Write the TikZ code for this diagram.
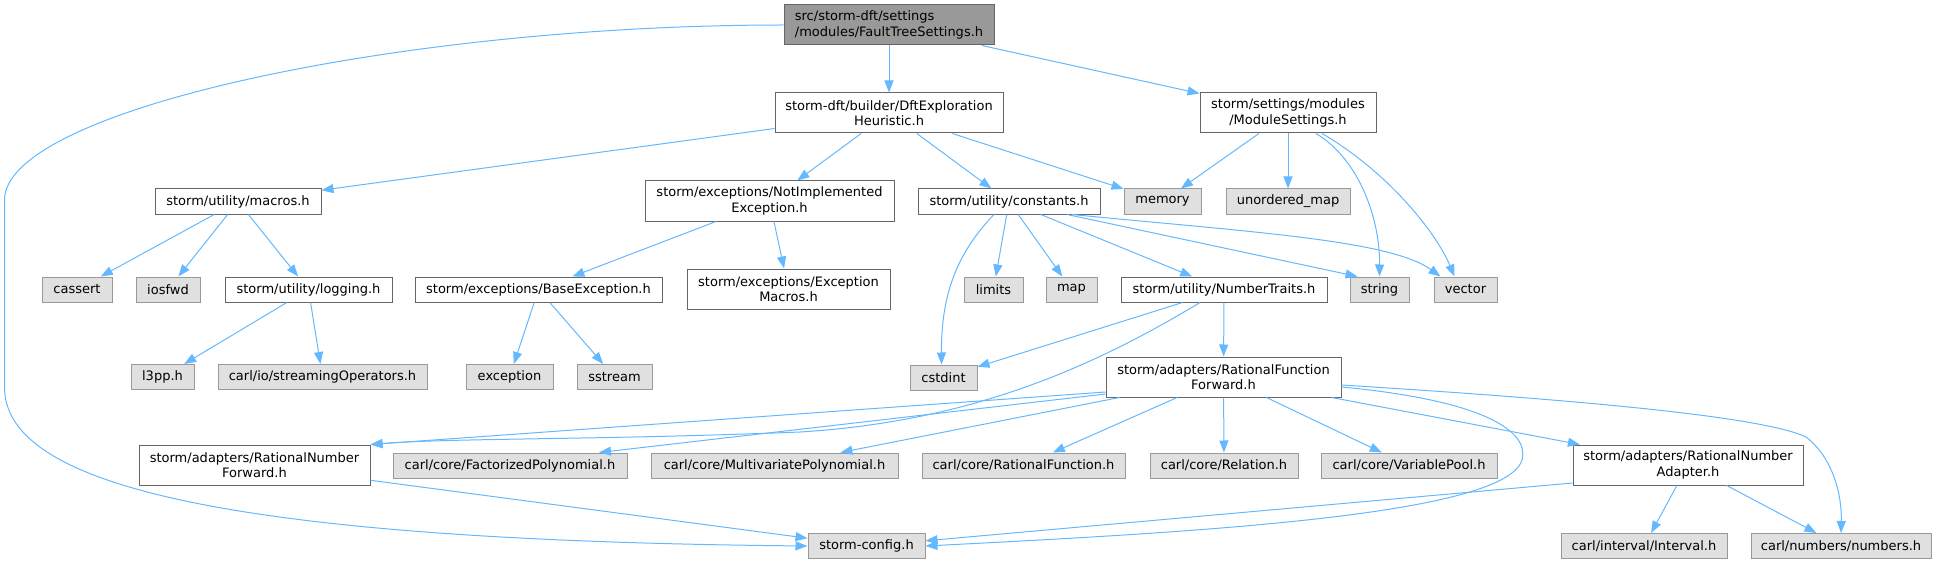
\documentclass[tikz,border=0pt]{standalone}
\usepackage{fontspec}
\setmainfont{DejaVu Sans}
\usepackage{xcolor}
\usepackage{tikz}
\usetikzlibrary{arrows.meta}
\definecolor{azulflecha}{HTML}{63B8FF}
\definecolor{bordeoscuro}{HTML}{666666}
\definecolor{bordeclaro}{HTML}{999999}
\definecolor{fondogris}{HTML}{E0E0E0}
\definecolor{fondoraiz}{HTML}{999999}

\begin{document}
\begin{tikzpicture}[x=1pt, y=-1pt, font=\fontsize{13}{15.5}\selectfont,
  caja/.style={draw=bordeoscuro, fill=white, line width=1pt, inner sep=0pt, align=center, minimum height=25pt},
  cajagris/.style={caja, draw=bordeclaro, fill=fondogris},
  flecha/.style={-{Triangle[length=12pt,width=9pt]}, azulflecha, line width=1pt}]
  \useasboundingbox (0,0) rectangle (1937,564);
  \node[caja, fill=fondoraiz, align=left, minimum width=210pt, minimum height=40pt] (raiz) at (889,25) {src/storm-dft/settings\\/modules/FaultTreeSettings.h};
  \node[caja, minimum width=228pt, minimum height=40pt] (dft) at (889,113) {storm-dft/builder/DftExploration\\Heuristic.h};
  \node[caja, minimum width=176pt, minimum height=40pt] (modulos) at (1288,113) {storm/settings/modules\\/ModuleSettings.h};
  \node[caja, minimum width=166pt] (macros) at (238,201.5) {storm/utility/macros.h};
  \node[caja, minimum width=249pt, minimum height=40pt] (noimpl) at (769.5,201) {storm/exceptions/NotImplemented\\Exception.h};
  \node[caja, minimum width=182pt] (constantes) at (1009,201.5) {storm/utility/constants.h};
  \node[cajagris, minimum width=77pt] (memory) at (1162.5,201.5) {memory};
  \node[cajagris, minimum width=124pt] (umap) at (1288,201.5) {unordered\_map};
  \node[cajagris, minimum width=70pt] (cassert) at (77,289.5) {cassert};
  \node[cajagris, minimum width=64pt] (iosfwd) at (168,289.5) {iosfwd};
  \node[caja, minimum width=167pt] (logging) at (308.5,289.5) {storm/utility/logging.h};
  \node[caja, minimum width=247pt] (baseexc) at (538.5,289.5) {storm/exceptions/BaseException.h};
  \node[caja, minimum width=203pt, minimum height=40pt] (excmacros) at (788.5,289) {storm/exceptions/Exception\\Macros.h};
  \node[cajagris, minimum width=59pt] (limits) at (993.5,289.5) {limits};
  \node[cajagris, minimum width=51pt] (map) at (1071.5,289.5) {map};
  \node[caja, minimum width=206pt] (numtraits) at (1224,289.5) {storm/utility/NumberTraits.h};
  \node[cajagris, minimum width=59pt] (string) at (1379.5,289.5) {string};
  \node[cajagris, minimum width=63pt] (vector) at (1465.5,289.5) {vector};
  \node[cajagris, minimum width=63pt] (l3pp) at (162.5,377) {l3pp.h};
  \node[cajagris, minimum width=209pt] (streamops) at (322.5,377) {carl/io/streamingOperators.h};
  \node[cajagris, minimum width=87pt] (exception) at (509.5,377) {exception};
  \node[cajagris, minimum width=75pt] (sstream) at (614.5,377) {sstream};
  \node[cajagris, minimum width=67pt] (cstdint) at (943.5,377.5) {cstdint};
  \node[caja, minimum width=235pt, minimum height=40pt] (rff) at (1223.5,377) {storm/adapters/RationalFunction\\Forward.h};
  \node[caja, minimum width=231pt, minimum height=40pt] (rnf) at (254.5,465) {storm/adapters/RationalNumber\\Forward.h};
  \node[cajagris, minimum width=234pt] (factpoly) at (510,465.5) {carl/core/FactorizedPolynomial.h};
  \node[cajagris, minimum width=247pt] (multipoly) at (774.5,465.5) {carl/core/MultivariatePolynomial.h};
  \node[cajagris, minimum width=203pt] (ratfunc) at (1023.5,465.5) {carl/core/RationalFunction.h};
  \node[cajagris, minimum width=148pt] (relation) at (1224,465.5) {carl/core/Relation.h};
  \node[cajagris, minimum width=176pt] (varpool) at (1409,465.5) {carl/core/VariablePool.h};
  \node[caja, minimum width=230pt, minimum height=40pt] (rna) at (1688,465) {storm/adapters/RationalNumber\\Adapter.h};
  \node[cajagris, minimum width=117pt] (config) at (866.5,546) {storm-config.h};
  \node[cajagris, minimum width=166pt] (interval) at (1644,546) {carl/interval/Interval.h};
  \node[cajagris, minimum width=180pt] (numbers) at (1841,546) {carl/numbers/numbers.h};
  \draw[flecha] (raiz.west) .. controls (400,25) and (4.5,110) .. (4.5,200) -- (4.5,387) .. controls (4.5,480) and (200,540) .. (config.west);
  \draw[flecha] (raiz) -- (dft);
  \draw[flecha] (raiz) -- (modulos);
  \draw[flecha] (dft) -- (macros);
  \draw[flecha] (dft) -- (noimpl);
  \draw[flecha] (dft) -- (constantes);
  \draw[flecha] (dft) -- (memory);
  \draw[flecha] (modulos) -- (memory);
  \draw[flecha] (modulos) -- (umap);
  \draw[flecha] ([xshift=28pt]modulos.south) .. controls (1360,160) and (1380,220) .. (string.north);
  \draw[flecha] ([xshift=34pt]modulos.south) .. controls (1385,170) and (1435,230) .. ([xshift=-11pt]vector.north);
  \draw[flecha] (macros) -- (cassert);
  \draw[flecha] (macros) -- (iosfwd);
  \draw[flecha] (macros) -- (logging);
  \draw[flecha] (logging) -- (l3pp);
  \draw[flecha] (logging) -- (streamops);
  \draw[flecha] (noimpl) -- (baseexc);
  \draw[flecha] (noimpl) -- (excmacros);
  \draw[flecha] (baseexc) -- (exception);
  \draw[flecha] (baseexc) -- (sstream);
  \draw[flecha] ([xshift=-15pt]constantes.south) .. controls (960,250) and (941,290) .. ([xshift=-2pt]cstdint.north);
  \draw[flecha] (constantes) -- (limits);
  \draw[flecha] (constantes) -- (map);
  \draw[flecha] (constantes) -- (numtraits);
  \draw[flecha] ([xshift=58pt]constantes.south) -- ([xshift=-22pt]string.north);
  \draw[flecha] ([xshift=63pt]constantes.south) .. controls (1250,232) and (1390,240) .. ([xshift=-25pt]vector.north);
  \draw[flecha] (numtraits) -- (cstdint);
  \draw[flecha] (numtraits) -- (rff);
  \draw[flecha] ([xshift=-24pt]numtraits.south) .. controls (1080,375) and (960,422) .. (800,432) .. controls (600,440) and (450,438) .. (rnf.north east);
  \draw[flecha] ([yshift=-15pt]rff.west) -- (rnf.north east);
  \draw[flecha] ([yshift=-17pt]rff.west) -- ([xshift=89pt]factpoly.north);
  \draw[flecha] (rff) -- (multipoly);
  \draw[flecha] (rff) -- (ratfunc);
  \draw[flecha] (rff) -- (relation);
  \draw[flecha] (rff) -- (varpool);
  \draw[flecha] (rff) -- (rna);
  \draw[flecha] ([yshift=-10pt]rff.east) .. controls (1480,400) and (1530,430) .. (1522,460) .. controls (1505,515) and (1200,532) .. (config.east);
  \draw[flecha] ([yshift=-8pt]rff.east) .. controls (1550,398) and (1760,415) .. (1806,437) .. controls (1830,455) and (1842,490) .. (numbers.north);
  \draw[flecha] (rnf) -- (config);
  \draw[flecha] ([yshift=-18pt]rna.west) -- (config);
  \draw[flecha] (rna) -- (interval);
  \draw[flecha] (rna) -- (numbers);
\end{tikzpicture}
\end{document}
